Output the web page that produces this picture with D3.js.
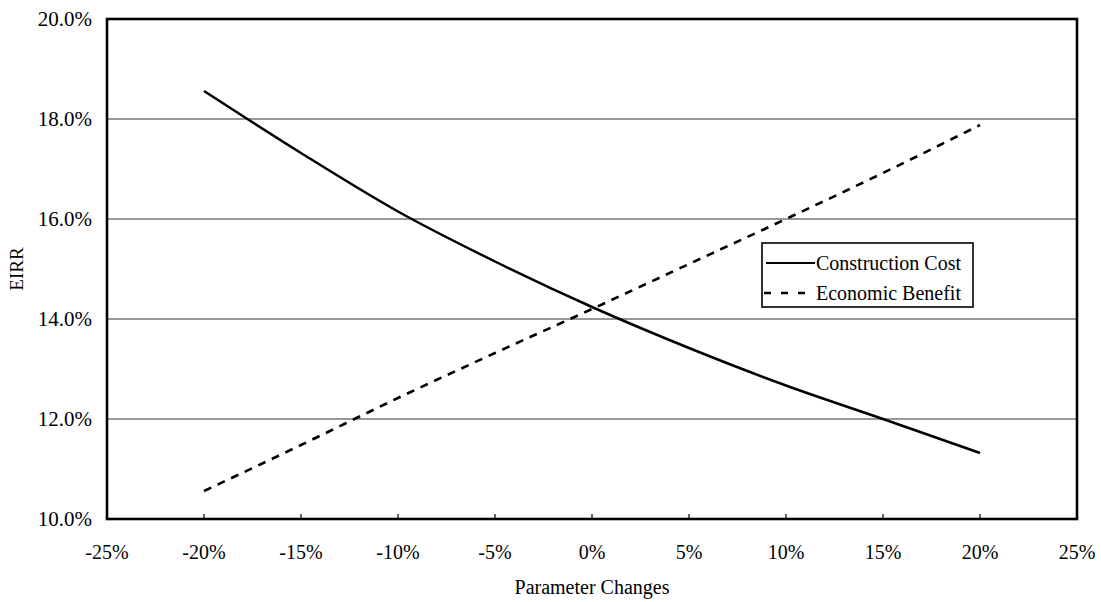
<!DOCTYPE html>
<html>
<head>
<meta charset="utf-8">
<script src="https://cdn.jsdelivr.net/npm/d3@7"></script>
<style>
  html, body { margin: 0; padding: 0; background: #fff; }
  svg { display: block; }
  text { font-family: "Liberation Serif", "Times New Roman", serif; fill: #000; }
</style>
</head>
<body>
<svg id="chart" width="1101" height="602"></svg>
<script>
const changes = [-20, -15, -10, -5, 0, 5, 10, 15, 20];
const constructionCost = [18.56, 17.32, 16.15, 15.15, 14.24, 13.42, 12.67, 12.0, 11.32];
const economicBenefit = [10.56, 11.48, 12.42, 13.32, 14.2, 15.1, 16.0, 16.92, 17.88];
const xTicks = [-25, -20, -15, -10, -5, 0, 5, 10, 15, 20, 25];
const yTicks = [10, 12, 14, 16, 18, 20];
const seriesNames = ["Construction Cost", "Economic Benefit"];

const svg = d3.select("#chart");
const L = 107, R = 1077, T = 19, B = 519;

const x = d3.scaleLinear().domain([-25, 25]).range([L, R]);
const y = d3.scaleLinear().domain([10, 20]).range([B, T]);

// gridlines
svg.append("g").selectAll("line").data(yTicks.filter(d => d > 10 && d < 20)).join("line")
  .attr("x1", L).attr("x2", R)
  .attr("y1", d => y(d)).attr("y2", d => y(d))
  .attr("stroke", "#333").attr("stroke-width", 1.2);

// y labels
svg.append("g").selectAll("text").data(yTicks).join("text")
  .attr("x", 92).attr("y", d => y(d)).attr("text-anchor", "end")
  .attr("dominant-baseline", "central").attr("font-size", 21)
  .text(d => d.toFixed(1) + "%");

// x axis ticks (inward)
svg.append("g").selectAll("line").data(xTicks).join("line")
  .attr("x1", d => x(d)).attr("x2", d => x(d))
  .attr("y1", B).attr("y2", B - 5)
  .attr("stroke", "#000").attr("stroke-width", 1.2);

svg.append("g").selectAll("text").data(xTicks).join("text")
  .attr("x", d => x(d)).attr("y", 552).attr("text-anchor", "middle")
  .attr("dominant-baseline", "central").attr("font-size", 20)
  .text(d => (d < 0 ? "-" + Math.abs(d) : d) + "%");

// frame
svg.append("rect").attr("x", L).attr("y", T).attr("width", R - L).attr("height", B - T)
  .attr("fill", "none").attr("stroke", "#000").attr("stroke-width", 2.6);

// axis titles
svg.append("text").attr("x", (L + R) / 2).attr("y", 587).attr("text-anchor", "middle")
  .attr("dominant-baseline", "central").attr("font-size", 20).text("Parameter Changes");
svg.append("text").attr("transform", `translate(16,${(T + B) / 2}) rotate(-90)`)
  .attr("text-anchor", "middle").attr("dominant-baseline", "central")
  .attr("font-size", 19).text("EIRR");

// series
const line = d3.line().x(d => x(d[0])).y(d => y(d[1])).curve(d3.curveMonotoneX);
svg.append("path").datum(changes.map((c, i) => [c, constructionCost[i]]))
  .attr("d", line).attr("fill", "none").attr("stroke", "#000").attr("stroke-width", 2.5);
svg.append("path").datum(changes.map((c, i) => [c, economicBenefit[i]]))
  .attr("d", line).attr("fill", "none").attr("stroke", "#000").attr("stroke-width", 2.6)
  .attr("stroke-dasharray", "8,7");

// legend
const lg = svg.append("g");
lg.append("rect").attr("x", 762).attr("y", 243).attr("width", 211).attr("height", 64)
  .attr("fill", "#fff").attr("stroke", "#000").attr("stroke-width", 1.6);
const rows = [263, 293];
lg.append("line").attr("x1", 766).attr("x2", 815).attr("y1", rows[0]).attr("y2", rows[0])
  .attr("stroke", "#000").attr("stroke-width", 2);
lg.append("line").attr("x1", 764).attr("x2", 812).attr("y1", rows[1]).attr("y2", rows[1])
  .attr("stroke", "#000").attr("stroke-width", 2.5).attr("stroke-dasharray", "7,10");
lg.selectAll("text.leg").data(seriesNames).join("text").attr("class", "leg")
  .attr("x", 816).attr("y", (d, i) => rows[i]).attr("dominant-baseline", "central")
  .attr("font-size", 20).text(d => d);
</script>
</body>
</html>
